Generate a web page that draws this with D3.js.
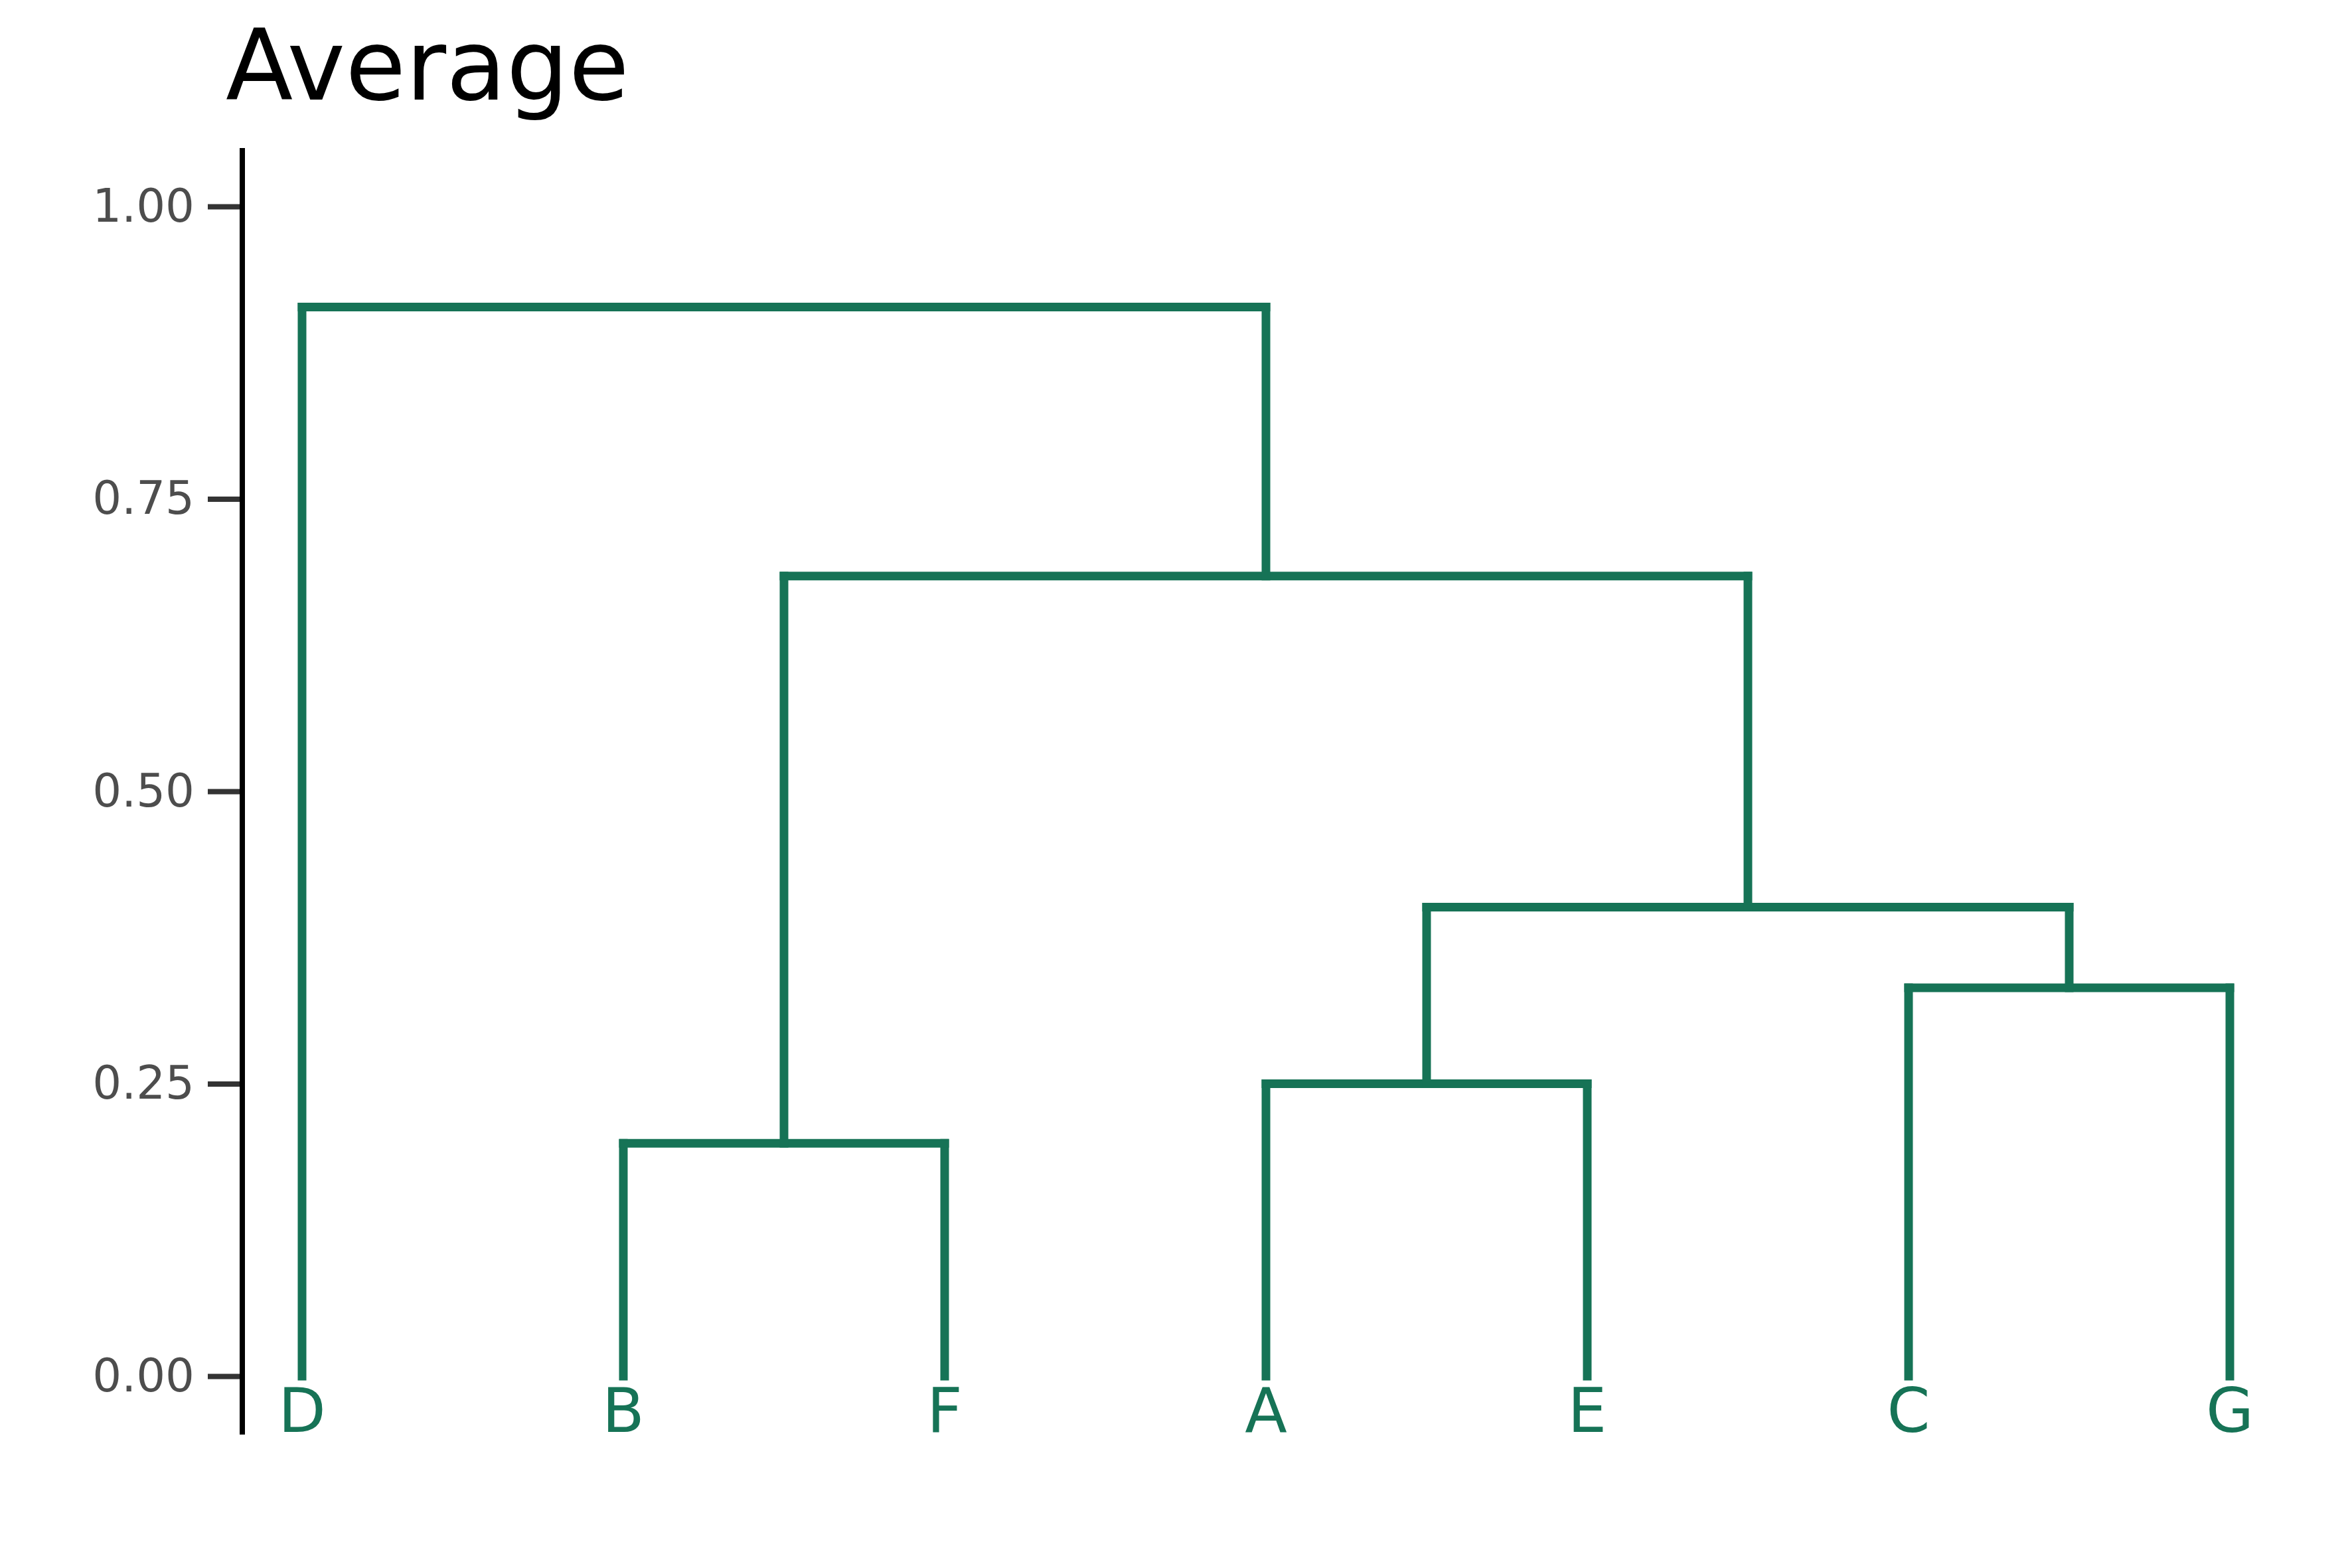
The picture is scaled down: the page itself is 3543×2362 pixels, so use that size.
<!DOCTYPE html>
<html><head><meta charset="utf-8">
<script src="https://cdn.jsdelivr.net/npm/d3@7"></script>
<style>body{margin:0;background:#fff}</style>
</head><body>
<svg id="chart" width="3543" height="2362"></svg>
<script>
// leaf order and merge heights (average linkage)
const leaves = ["D", "B", "F", "A", "E", "C", "G"];
const merges = [
  ["BF", "B", "F", 0.199],
  ["AE", "A", "E", 0.250],
  ["CG", "C", "G", 0.332],
  ["AECG", "AE", "CG", 0.401],
  ["BFAECG", "BF", "AECG", 0.684],
  ["root", "D", "BFAECG", 0.914]
];
const yTicks = [0, 0.25, 0.5, 0.75, 1];

const svg = d3.select("#chart");
const col = "#167356";

const x = d3.scalePoint().domain(leaves).range([455, 3359]);
const y = d3.scaleLinear().domain([0, 1]).range([2073, 311]);

// build node positions
const pos = {};
leaves.forEach(l => pos[l] = {x: x(l), h: 0});
const segs = [];
merges.forEach(([id, a, b, h]) => {
  const pa = pos[a], pb = pos[b];
  pos[id] = {x: (pa.x + pb.x) / 2, h: h};
  segs.push([pa.x, pa.h, pa.x, h]);
  segs.push([pb.x, pb.h, pb.x, h]);
  segs.push([pa.x, h, pb.x, h]);
});

svg.append("g").selectAll("line").data(segs).join("line")
  .attr("x1", d => d[0]).attr("y1", d => y(d[1]))
  .attr("x2", d => d[2]).attr("y2", d => y(d[3]))
  .attr("stroke", col).attr("stroke-width", 13).attr("stroke-linecap", "square");

// y axis
const yAxis = d3.axisLeft(y).tickValues(yTicks).tickFormat(d3.format(".2f")).tickSize(52).tickPadding(20);
const ga = svg.append("g").attr("transform", "translate(365,0)").call(yAxis);
ga.select(".domain").remove();
ga.selectAll(".tick line").attr("stroke", "#333").attr("stroke-width", 8);
ga.selectAll(".tick text").attr("fill", "#4d4d4d")
  .style("font-family", "DejaVu Sans").style("font-size", "69px");
svg.append("line").attr("x1", 365).attr("x2", 365).attr("y1", y(1.05)).attr("y2", y(-0.05))
  .attr("stroke", "#000").attr("stroke-width", 8);

// leaf labels
svg.append("g").selectAll("text").data(leaves).join("text")
  .attr("x", d => x(d)).attr("y", 2157).attr("text-anchor", "middle")
  .attr("fill", col).style("font-family", "DejaVu Sans").style("font-size", "93px")
  .text(d => d);

svg.append("text").attr("x", 340).attr("y", 150)
  .style("font-family", "DejaVu Sans").style("font-size", "148px").text("Average");
</script>
</body></html>
